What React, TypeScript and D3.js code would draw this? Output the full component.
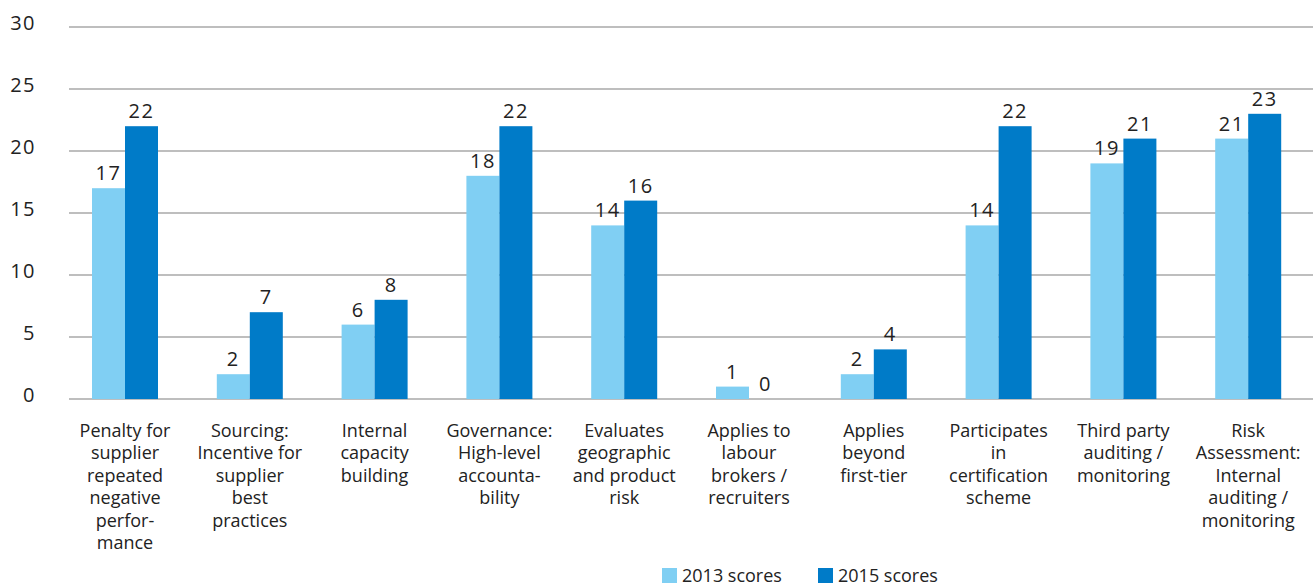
import React from "react";
import * as d3 from "d3";

const categories: string[][] = [
  ["Penalty for", "supplier", "repeated", "negative", "perfor-", "mance"],
  ["Sourcing:", "Incentive for", "supplier", "best", "practices"],
  ["Internal", "capacity", "building"],
  ["Governance:", "High-level", "accounta-", "bility"],
  ["Evaluates", "geographic", "and product", "risk"],
  ["Applies to", "labour", "brokers /", "recruiters"],
  ["Applies", "beyond", "first-tier"],
  ["Participates", "in", "certification", "scheme"],
  ["Third party", "auditing /", "monitoring"],
  ["Risk", "Assessment:", "Internal", "auditing /", "monitoring"],
];
const scores2013 = [17, 2, 6, 18, 14, 1, 2, 14, 19, 21];
const scores2015 = [22, 7, 8, 22, 16, 0, 4, 22, 21, 23];
const seriesNames = ["2013 scores", "2015 scores"];
const yTicks = [0, 5, 10, 15, 20, 25, 30];

const W = 1313;
const H = 588;
const COLORS = ["#80CFF3", "#007BC8"];
const FONT = "'Open Sans', 'DejaVu Sans', sans-serif";

export default function App() {
  const y = d3.scaleLinear().domain([0, 30]).range([399, 27]);
  const idx = categories.map((_, i) => i);
  const step = 124.8;
  const pairW = 66;
  const pi = 1 - pairW / step;
  const x = d3
    .scaleBand<number>()
    .domain(idx)
    .range([125 - step / 2, 125 + step * 9.5])
    .paddingInner(pi)
    .paddingOuter(pi / 2);
  const x1 = d3.scaleBand<number>().domain([0, 1]).range([0, x.bandwidth()]);
  const series = [scores2013, scores2015];

  return (
    <svg
      width={W}
      height={H}
      style={{ position: "absolute", left: 0, top: 0, background: "#fff" }}
      fontFamily={FONT}
    >
      {yTicks.map((t) => (
        <g key={t}>
          <line x1={69} x2={W} y1={y(t)} y2={y(t)} stroke="#a8a8a8" strokeWidth={1.3} />
          <text x={36} y={y(t) + 3} fontSize={20} fill="#222" textAnchor="end" letterSpacing={1.5}>
            {t}
          </text>
        </g>
      ))}
      {idx.map((i) => (
        <g key={i} transform={`translate(${x(i)},0)`}>
          {series.map((s, j) => (
            <g key={j}>
              <rect
                x={x1(j)}
                y={y(s[i])}
                width={x1.bandwidth()}
                height={y(0) - y(s[i])}
                fill={COLORS[j]}
              />
              <text
                x={(x1(j) as number) + x1.bandwidth() / 2}
                y={y(s[i]) - 8}
                textAnchor="middle"
                fontSize={20}
                fill="#222"
                letterSpacing={1.5}
              >
                {s[i]}
              </text>
            </g>
          ))}
          <text
            x={x.bandwidth() / 2}
            y={437}
            textAnchor="middle"
            fontSize={18}
            fill="#222"
          >
            {categories[i].map((l, k) => (
              <tspan key={k} x={x.bandwidth() / 2} dy={k === 0 ? 0 : 22.4}>
                {l}
              </tspan>
            ))}
          </text>
        </g>
      ))}
      {seriesNames.map((n, j) => (
        <g key={n} transform={`translate(${662 + j * 156},568)`}>
          <rect x={0} y={0} width={15} height={15} fill={COLORS[j]} />
          <text x={20} y={14} fontSize={18} fill="#222">
            {n}
          </text>
        </g>
      ))}
    </svg>
  );
}
